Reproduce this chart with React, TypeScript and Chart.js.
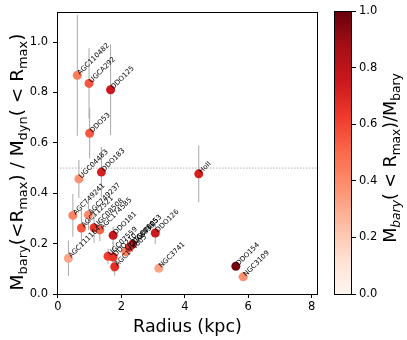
import React, { useEffect, useRef } from "react";
import { Chart, registerables } from "chart.js";
Chart.register(...registerables);

const names = ["AGC110482","UGCA292","DDO125","DDO53","UGC04483","DDO183","AGC749241","AGC749237","AGC112521","UGC08508","AGC174585","DDO181","DDO126","AGC111164","UGC07559","DDO210","AGC174605","UGC08833","UGC07605","UGC08053","NGC3741","HoII","DDO154","NGC3109"];
const radius = [0.61,0.98,1.66,1.00,0.66,1.37,0.47,0.96,0.74,1.14,1.32,1.74,3.07,0.33,1.58,1.74,1.79,2.14,2.25,2.35,3.18,4.44,5.61,5.84];
const ratio = [0.868,0.836,0.811,0.638,0.457,0.484,0.312,0.314,0.262,0.263,0.255,0.233,0.242,0.142,0.150,0.147,0.108,0.168,0.185,0.198,0.102,0.477,0.110,0.068];
const ratioErr = [0.24,0.14,0.18,0.10,0.075,0.10,0.085,0.06,0.07,0.06,0.045,0.035,0.044,0.07,0.03,0.06,0.035,0.02,0.02,0.02,0.015,0.113,0.015,0.01];
const radiusErr = [0,0,0,0,0,0,0,0,0,0,0,0,0,0,0,0,0,0,0,0,0,0,0,0.15];
const massFrac = [0.45,0.55,0.75,0.55,0.38,0.72,0.42,0.40,0.55,0.65,0.52,0.77,0.75,0.32,0.62,0.65,0.67,0.43,0.65,0.72,0.32,0.72,0.97,0.38];
const xTicks = [0, 2, 4, 6, 8];
const yTicks = [0, 0.2, 0.4, 0.6, 0.8, 1.0];
const cbTicks = [0, 0.2, 0.4, 0.6, 0.8, 1.0];
const refLine = 0.5;

const REDS = ["#fff5f0","#fee0d2","#fcbba1","#fc9272","#fb6a4a","#ef3b2c","#cb181d","#a50f15","#67000d"];
function hex(h: string) { return [1,3,5].map(i => parseInt(h.slice(i, i+2), 16)); }
function reds(v: number) {
  const t = Math.max(0, Math.min(1, v)) * (REDS.length - 1);
  const i = Math.min(REDS.length - 2, Math.floor(t));
  const f = t - i;
  const a = hex(REDS[i]), b = hex(REDS[i+1]);
  const c = a.map((x, k) => Math.round(x + (b[k] - x) * f));
  return `rgb(${c[0]},${c[1]},${c[2]})`;
}

const FONT = "'DejaVu Sans', sans-serif";
type Seg = { t: string; sub?: boolean; it?: boolean };

function drawRich(ctx: CanvasRenderingContext2D, segs: Seg[], cx: number, cy: number, size: number, rot: number) {
  ctx.save();
  ctx.translate(cx, cy);
  ctx.rotate(rot);
  ctx.fillStyle = "#000";
  ctx.textBaseline = "alphabetic";
  ctx.textAlign = "left";
  const fonts = segs.map(s => `${s.it ? "italic " : ""}${s.sub ? size * 0.7 : size}px ${FONT}`);
  let total = 0;
  const widths = segs.map((s, i) => { ctx.font = fonts[i]; const w = ctx.measureText(s.t).width; total += w; return w; });
  let x = -total / 2;
  const base = size * 0.36;
  segs.forEach((s, i) => {
    ctx.font = fonts[i];
    ctx.fillText(s.t, x, base + (s.sub ? size * 0.22 : 0));
    x += widths[i];
  });
  ctx.restore();
}

const yTitle: Seg[] = [
  { t: "M" }, { t: "bary", sub: true }, { t: "(<R" }, { t: "max", sub: true }, { t: ") / M" }, { t: "dyn", sub: true }, { t: "( < R" }, { t: "max", sub: true }, { t: ")" },
];
const cbTitle: Seg[] = [
  { t: "M" }, { t: "bary", sub: true, it: true }, { t: "( < R" }, { t: "max", sub: true }, { t: ")/M" }, { t: "bary", sub: true },
];

const mainPlugin = {
  id: "mainDeco",
  beforeDatasetsDraw(chart: any) {
    const { ctx, chartArea: a, scales } = chart;
    const xs = scales.x, ys = scales.y;
    ctx.save();
    ctx.beginPath();
    ctx.rect(a.left, a.top, a.right - a.left, a.bottom - a.top);
    ctx.clip();
    ctx.strokeStyle = "#b0b0b0";
    ctx.lineWidth = 1;
    ctx.setLineDash([1.5, 1.5]);
    const yl = ys.getPixelForValue(refLine);
    ctx.beginPath();
    ctx.moveTo(a.left, yl);
    ctx.lineTo(a.right, yl);
    ctx.stroke();
    ctx.setLineDash([]);
    ctx.strokeStyle = "#a8a8a8";
    ctx.lineWidth = 1;
    radius.forEach((r, i) => {
      const px = xs.getPixelForValue(r);
      const py = ys.getPixelForValue(ratio[i]);
      if (ratioErr[i] > 0) {
        ctx.beginPath();
        ctx.moveTo(px, ys.getPixelForValue(ratio[i] - ratioErr[i]));
        ctx.lineTo(px, ys.getPixelForValue(ratio[i] + ratioErr[i]));
        ctx.stroke();
      }
      if (radiusErr[i] > 0) {
        ctx.beginPath();
        ctx.moveTo(xs.getPixelForValue(r - radiusErr[i]), py);
        ctx.lineTo(xs.getPixelForValue(r + radiusErr[i]), py);
        ctx.stroke();
      }
    });
    ctx.restore();
  },
  afterDatasetsDraw(chart: any) {
    const { ctx, scales } = chart;
    const xs = scales.x, ys = scales.y;
    ctx.save();
    ctx.fillStyle = "#000";
    ctx.font = `7px ${FONT}`;
    ctx.textBaseline = "bottom";
    ctx.textAlign = "left";
    names.forEach((n, i) => {
      const px = xs.getPixelForValue(radius[i]);
      const py = ys.getPixelForValue(ratio[i]);
      ctx.save();
      ctx.translate(px + 4, py + 1);
      ctx.rotate(-Math.PI / 4);
      ctx.fillText(n, 0, 0);
      ctx.restore();
    });
    ctx.restore();
  },
  afterDraw(chart: any) {
    const { ctx, chartArea: a } = chart;
    ctx.save();
    ctx.strokeStyle = "#000";
    ctx.lineWidth = 1;
    ctx.strokeRect(Math.round(a.left) + 0.5, Math.round(a.top) + 0.5, Math.round(a.right - a.left) - 1, Math.round(a.bottom - a.top));
    ctx.fillStyle = "#000";
    ctx.font = `17.5px ${FONT}`;
    ctx.textAlign = "center";
    ctx.textBaseline = "alphabetic";
    ctx.fillText("Radius (kpc)", (a.left + a.right) / 2, 332);
    ctx.restore();
    drawRich(ctx, yTitle, 16, 162, 18.5, -Math.PI / 2);
  },
};

const cbPlugin = {
  id: "cbDeco",
  afterDraw(chart: any) {
    const { ctx, chartArea: a } = chart;
    ctx.save();
    ctx.strokeStyle = "#000";
    ctx.lineWidth = 1;
    ctx.strokeRect(Math.round(a.left) + 0.5, Math.round(a.top) + 0.5, Math.round(a.right - a.left) - 1, Math.round(a.bottom - a.top));
    ctx.restore();
    drawRich(ctx, cbTitle, 390, 158, 17.5, -Math.PI / 2);
  },
};

export default function App() {
  const mainRef = useRef<HTMLCanvasElement>(null);
  const cbRef = useRef<HTMLCanvasElement>(null);

  useEffect(() => {
    const tickFont = { family: FONT, size: 11.5 };
    const main = new Chart(mainRef.current!, {
      type: "scatter",
      data: {
        datasets: [{
          data: radius.map((r, i) => ({ x: r, y: ratio[i] })),
          backgroundColor: massFrac.map(v => reds(v)),
          borderWidth: 0,
          pointRadius: 4.5,
          pointHoverRadius: 4.5,
        }],
      },
      options: {
        responsive: false,
        animation: false,
        events: [],
        layout: { padding: { top: 11, right: 89, left: 0, bottom: 0 } },
        plugins: { legend: { display: false }, tooltip: { enabled: false } },
        scales: {
          x: {
            type: "linear", min: -0.03, max: 8.2,
            afterBuildTicks: (s: any) => { s.ticks = xTicks.map(v => ({ value: v })); },
            afterFit: (s: any) => { s.height = 46; },
            ticks: { font: tickFont, color: "#000", padding: 2, maxRotation: 0, callback: (v: any) => String(v) },
            grid: { drawOnChartArea: false, drawTicks: true, tickLength: 4, color: "#000" },
            border: { display: false },
          },
          y: {
            type: "linear", min: 0, max: 1.12,
            afterBuildTicks: (s: any) => { s.ticks = yTicks.map(v => ({ value: v })); },
            afterFit: (s: any) => { s.width = 57; },
            ticks: { font: tickFont, color: "#000", padding: 5, callback: (v: any) => Number(v).toFixed(1) },
            grid: { drawOnChartArea: false, drawTicks: true, tickLength: 4, color: "#000" },
            border: { display: false },
          },
        },
      },
      plugins: [mainPlugin],
    } as any);

    const cb = new Chart(cbRef.current!, {
      type: "bar",
      data: {
        labels: [""],
        datasets: [{
          data: [1],
          borderWidth: 0,
          barPercentage: 1,
          categoryPercentage: 1,
          backgroundColor: (c: any) => {
            const a = c.chart.chartArea;
            if (!a) return REDS[4];
            const g = c.chart.ctx.createLinearGradient(0, a.bottom, 0, a.top);
            REDS.forEach((col, i) => g.addColorStop(i / (REDS.length - 1), col));
            return g;
          },
        }],
      },
      options: {
        responsive: false,
        animation: false,
        events: [],
        layout: { padding: { top: 11, right: 0, left: 334, bottom: 46 } },
        plugins: { legend: { display: false }, tooltip: { enabled: false } },
        scales: {
          x: { display: false },
          y: {
            position: "right", min: 0, max: 1,
            afterBuildTicks: (s: any) => { s.ticks = cbTicks.map(v => ({ value: v })); },
            afterFit: (s: any) => { s.width = 55; },
            ticks: { font: tickFont, color: "#000", padding: 3, callback: (v: any) => Number(v).toFixed(1) },
            grid: { drawOnChartArea: false, drawTicks: true, tickLength: 4, color: "#000" },
            border: { display: false },
          },
        },
      },
      plugins: [cbPlugin],
    } as any);

    return () => { main.destroy(); cb.destroy(); };
  }, []);

  return (
    <div style={{ position: "absolute", left: 0, top: 0, width: 407, height: 340, background: "#fff" }}>
      <canvas ref={mainRef} width={407} height={340} style={{ position: "absolute", left: 0, top: 0 }} />
      <canvas ref={cbRef} width={407} height={340} style={{ position: "absolute", left: 0, top: 0 }} />
    </div>
  );
}
